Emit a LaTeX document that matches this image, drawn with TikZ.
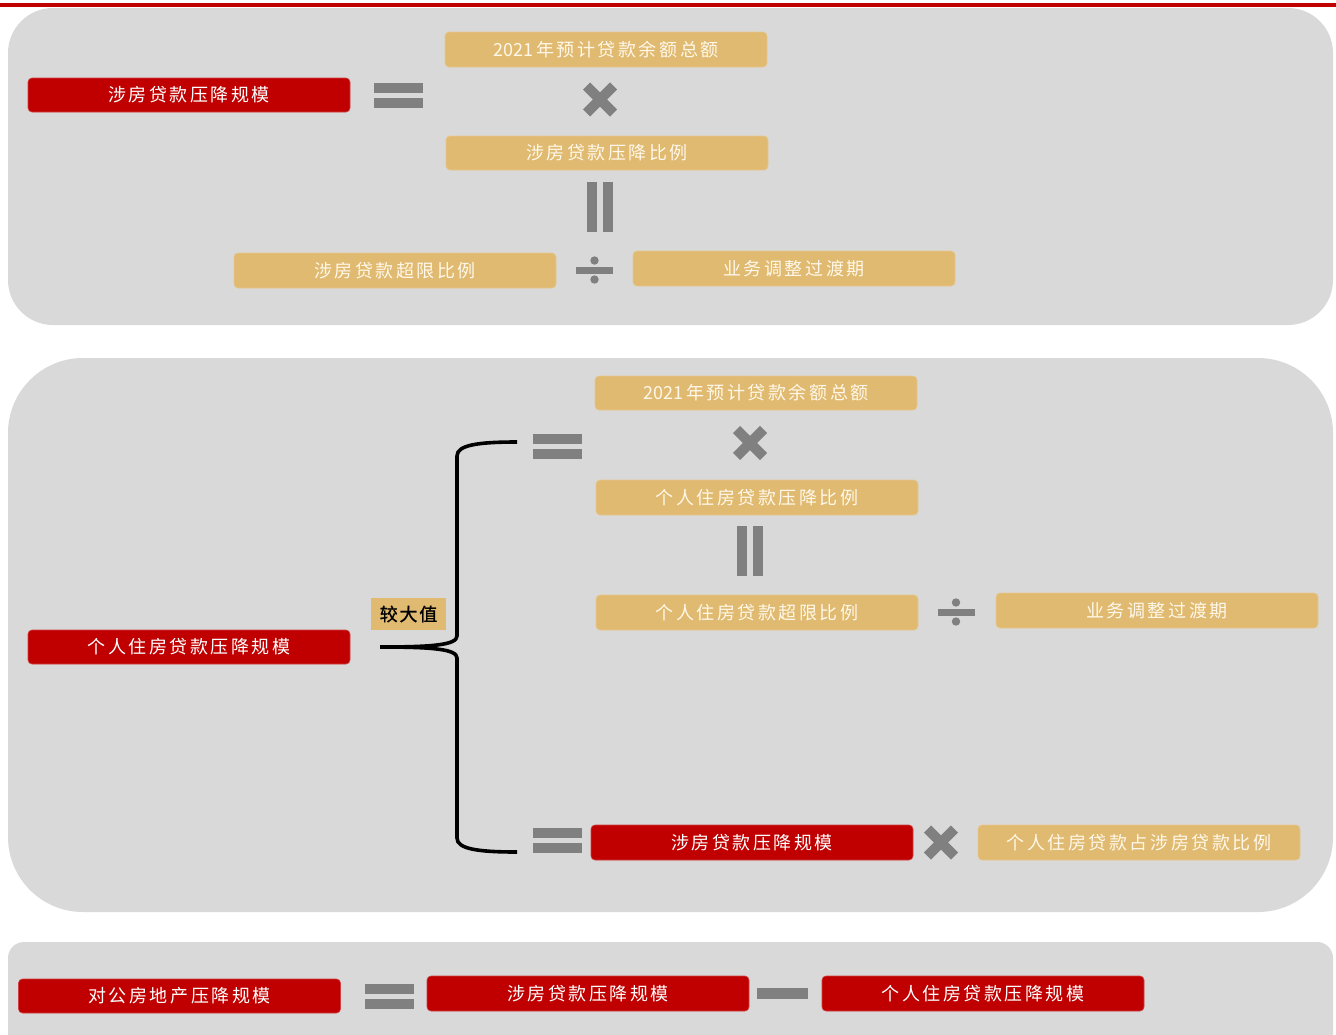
\documentclass[tikz,border=0pt]{standalone}
\usepackage{fontspec}
\newfontfamily\cjk[LetterSpace=14]{Noto Sans CJK SC}
\newfontfamily\cjkplain{Noto Sans CJK SC}
\newfontfamily\cjkb[FakeBold=1.2,LetterSpace=10]{Noto Sans CJK SC}
\definecolor{cred}{HTML}{C00000}
\definecolor{cgold}{HTML}{E0BA70}
\definecolor{cpanel}{HTML}{D9D9D9}
\definecolor{cop}{HTML}{808080}
\definecolor{ctxt}{HTML}{FFF8EA}
\newcommand{\opEq}[2]{\fill[cop] (#1-24.5,#2-12.5) rectangle ++(49,10); \fill[cop] (#1-24.5,#2+2.5) rectangle ++(49,10);}
\newcommand{\opVEq}[2]{\fill[cop] (#1-13,#2-25) rectangle ++(10,50); \fill[cop] (#1+3,#2-25) rectangle ++(10,50);}
\newcommand{\opTimes}[2]{\draw[cop,line width=10pt] (#1-13.5,#2-13.5) -- (#1+13.5,#2+13.5); \draw[cop,line width=10pt] (#1-13.5,#2+13.5) -- (#1+13.5,#2-13.5);}
\newcommand{\opDiv}[2]{\fill[cop] (#1-18.5,#2-3.5) rectangle ++(37,7); \fill[cop] (#1,#2-9.5) circle (4.2); \fill[cop] (#1,#2+9.5) circle (4.2);}
\newcommand{\opMinus}[2]{\fill[cop] (#1-25.5,#2-5.5) rectangle ++(51,11);}
\newcommand{\yr}{{\cjkplain 2021}\,}
\tikzset{
  basebox/.style={rounded corners=4pt, minimum width=322pt, minimum height=34pt, inner sep=0pt, line width=0.6pt, font=\cjk\fontsize{18}{18}\selectfont},
  redbox/.style={basebox, fill=cred, draw=cred!75!white, text=white},
  goldbox/.style={basebox, fill=cgold, draw=cgold!80!white, text=ctxt},
  tagbox/.style={fill=cgold, minimum width=75pt, minimum height=32pt, inner sep=0pt, text=black, font=\cjkb\fontsize{18}{18}\selectfont},
  panel/.style={fill=cpanel},
  bracestyle/.style={draw=black, line width=3.6pt}
}
\begin{document}
\begin{tikzpicture}[x=1pt,y=-1pt]
\useasboundingbox (0,0) rectangle (1336,1034);
\clip (0,0) rectangle (1336,1034);
\fill[white] (0,0) rectangle (1336,1034);
% top red rule
\fill[cred] (0,2.5) rectangle (1336,6.5);
% panels
\fill[panel, rounded corners=45pt] (8,8) rectangle (1333,325);
\fill[panel, rounded corners=75pt] (8,358) rectangle (1333,912);
\fill[panel, rounded corners=16pt] (8,942) rectangle (1333,1070);

% ---------- panel 1 ----------
\node[redbox] (r1) at (189,95) {涉房贷款压降规模};
\node[goldbox, minimum height=35pt] (g1) at (606,49.5) {\yr 年预计贷款余额总额};
\node[goldbox] (g2) at (607,153) {涉房贷款压降比例};
\node[goldbox, minimum height=35pt] (g3) at (395,270.5) {涉房贷款超限比例};
\node[goldbox, minimum height=35pt] (g4) at (794,268.5) {业务调整过渡期};
\opEq{398}{95}
\opTimes{600}{99.5}
\opVEq{600}{207}
\opDiv{594.5}{270}

% ---------- panel 2 ----------
\node[redbox] (r2) at (189,647) {个人住房贷款压降规模};
\node[tagbox] (tag) at (408.5,614) {较大值};
\node[goldbox] (g5) at (756,393) {\yr 年预计贷款余额总额};
\node[goldbox, minimum height=35pt] (g6) at (757,497.5) {个人住房贷款压降比例};
\node[goldbox, minimum height=35pt] (g7) at (757,612.5) {个人住房贷款超限比例};
\node[goldbox, minimum height=35pt] (g8) at (1157,610.5) {业务调整过渡期};
\node[redbox, minimum height=35pt] (r3) at (752,842.5) {涉房贷款压降规模};
\node[goldbox, minimum height=35pt] (g9) at (1139,842.5) {个人住房贷款占涉房贷款比例};
\opEq{557}{446}
\opTimes{750}{443}
\opVEq{750}{551}
\opDiv{956}{612}
\opEq{557}{840}
\opTimes{941}{842.5}

% brace
\coordinate (bt) at (517,442);
\coordinate (bm) at (380,647);
\coordinate (bb) at (517,852);
\draw[bracestyle] (bt) .. controls (478,442) and (457,445) .. (457,456)
  -- (457,636) .. controls (457,645) and (432,647) .. (bm)
  (bm) .. controls (432,647) and (457,649) .. (457,658)
  -- (457,838) .. controls (457,849) and (478,852) .. (bb);

% ---------- panel 3 ----------
\node[redbox] (r4) at (179.5,996) {对公房地产压降规模};
\node[redbox, minimum height=35pt] (r5) at (588,993.5) {涉房贷款压降规模};
\node[redbox, minimum height=35pt] (r6) at (983,993.5) {个人住房贷款压降规模};
\opEq{389}{996}
\opMinus{782.5}{993.5}
\end{tikzpicture}
\end{document}
